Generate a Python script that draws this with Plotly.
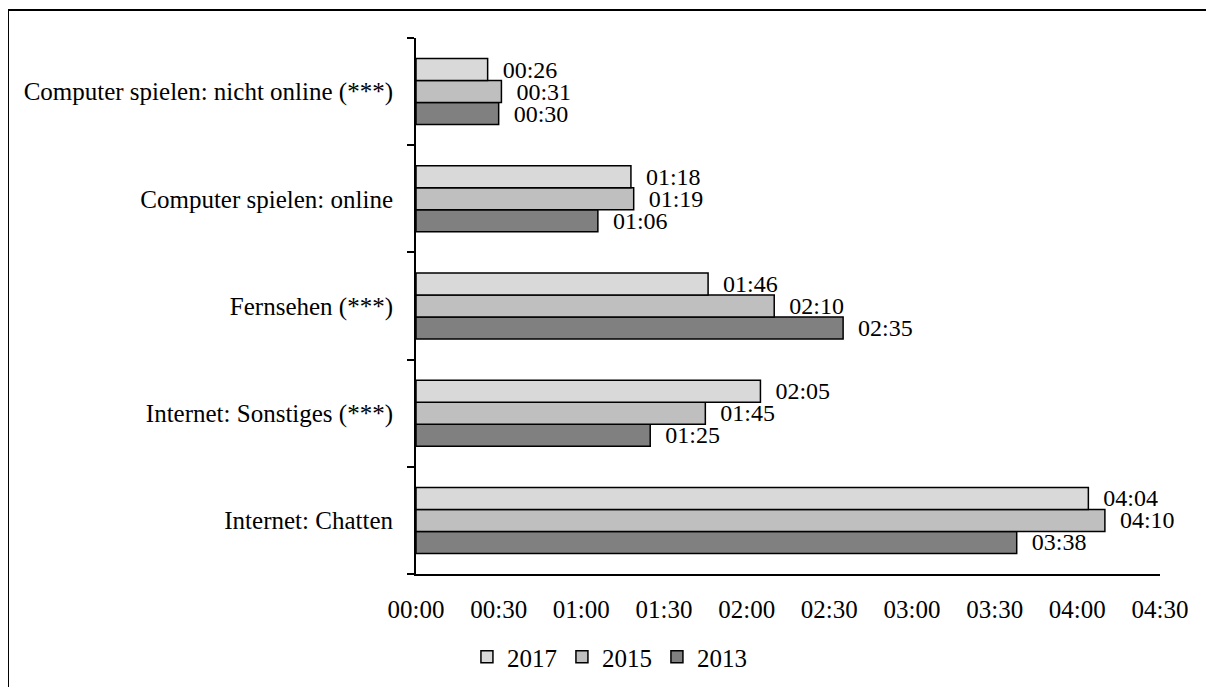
import plotly.graph_objects as go

FONT = "Liberation Serif"

# categories listed bottom -> top
kategorien = [
    "Internet: Chatten",
    "Internet: Sonstiges (***)",
    "Fernsehen (***)",
    "Computer spielen: online",
    "Computer spielen: nicht online (***)",
]

# minutes per day
minuten_2017 = [244, 125, 106, 78, 26]
minuten_2015 = [250, 105, 130, 79, 31]
minuten_2013 = [218, 85, 155, 66, 30]

tick_werte = [0, 30, 60, 90, 120, 150, 180, 210, 240, 270]
tick_texte = ["00:00", "00:30", "01:00", "01:30", "02:00",
              "02:30", "03:00", "03:30", "04:00", "04:30"]


def hhmm(m):
    return f"{m // 60:02d}:{m % 60:02d}"


serien = [
    ("2013", minuten_2013, "#808080"),
    ("2015", minuten_2015, "#bfbfbf"),
    ("2017", minuten_2017, "#d9d9d9"),
]

fig = go.Figure()
for name, werte, farbe in serien:
    fig.add_trace(go.Bar(
        name=name,
        y=kategorien,
        x=werte,
        orientation="h",
        marker=dict(color=farbe, line=dict(color="black", width=1.5)),
        text=[hhmm(v) for v in werte],
        texttemplate="\u00a0\u00a0%{text}",
        textposition="outside",
        constraintext="none",
        cliponaxis=False,
        textfont=dict(family=FONT, size=24, color="black"),
    ))

fig.update_layout(
    width=1214,
    height=687,
    # page body adds an 8px offset
    margin=dict(l=408, r=62, t=30, b=121),
    plot_bgcolor="white",
    paper_bgcolor="white",
    barmode="group",
    bargap=0.384,
    bargroupgap=0,
    font=dict(family=FONT, size=25, color="black"),
    showlegend=True,
    legend=dict(
        orientation="h",
        traceorder="reversed",
        x=0.26,
        xanchor="center",
        y=-0.155,
        yanchor="middle",
        font=dict(family=FONT, size=25),
        itemwidth=30,
    ),
    xaxis=dict(
        range=[0, 270],
        tickvals=tick_werte,
        ticktext=tick_texte,
        showgrid=False,
        zeroline=False,
        showline=True,
        linecolor="black",
        linewidth=2,
        ticks="",
        ticklabelstandoff=12,
    ),
    yaxis=dict(
        showgrid=False,
        showline=True,
        linecolor="black",
        linewidth=2,
        ticks="outside",
        ticklen=7,
        tickwidth=1.5,
        tickcolor="black",
        tickson="boundaries",
        ticklabelstandoff=16,
    ),
    shapes=[
        dict(type="rect", xref="paper", yref="paper",
             x0=-0.5484, x1=1.1, y0=-0.3, y1=1.0522,
             line=dict(color="black", width=2), fillcolor="rgba(0,0,0,0)",
             layer="below"),
    ],
)

fig.write_html("out.html")
